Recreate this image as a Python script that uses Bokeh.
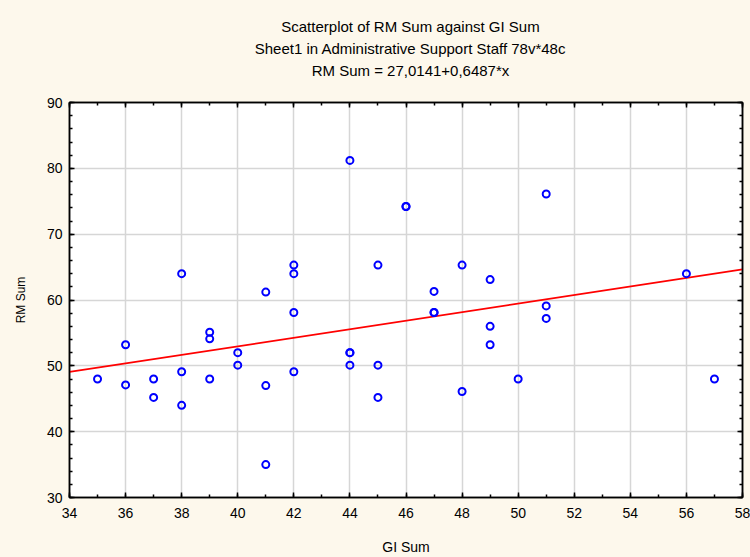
from bokeh.plotting import figure
from bokeh.layouts import column
from bokeh.models import (LinearAxis, SingleIntervalTicker, Range1d,
                          ColumnDataSource, Grid, CustomJSTickFormatter)
from bokeh.core.properties import value
from bokeh.embed import file_html
from bokeh.resources import INLINE

# ---- data ----
gi_sum = [35, 36, 36, 37, 37, 38, 38, 38, 39, 39, 39, 40, 40, 41, 41, 41,
          42, 42, 42, 42, 44, 44, 44, 44, 45, 45, 45, 46, 46, 47, 47, 47,
          48, 48, 49, 49, 49, 50, 51, 51, 51, 56, 57]
rm_sum = [48, 53.2, 47.1, 48, 45.2, 64, 49.1, 44, 55.1, 54.1, 48, 52, 50.1,
          61.2, 47, 35, 65.3, 64, 58.1, 49.1, 81.2, 52, 52, 50.1, 65.3, 50.1,
          45.2, 74.2, 74.2, 61.3, 58.1, 58.1, 65.3, 46.1, 63.1, 56, 53.2, 48,
          76.1, 59.1, 57.2, 64, 48]
intercept = 27.0141
slope = 0.6487
fit_x = [34, 58]
fit_y = [intercept + slope * v for v in fit_x]

title_lines = ["Scatterplot of RM Sum against GI Sum",
               "Sheet1 in Administrative Support Staff 78v*48c",
               "RM Sum = 27,0141+0,6487*x"]
x_label = "GI Sum"
y_label = "RM Sum"

FONT = "Liberation Sans"
BG = "#fdf8ec"

W, H = 750, 557
TH = 94                      # height of the title strip
ML, MR, MT, MB = 69, 8, 8, 59

# ---------------- title strip ----------------
t = figure(width=W, height=TH, output_backend="svg", toolbar_location=None,
           x_range=Range1d(0, W), y_range=Range1d(TH, 0),
           x_axis_type=None, y_axis_type=None, min_border=0)
t.xgrid.visible = False
t.ygrid.visible = False
t.background_fill_color = BG
t.border_fill_color = BG
t.outline_line_color = None
title_cx = [380, 380, 380]
title_cy = [26, 48, 70]
t.text(x=title_cx, y=title_cy, text=title_lines, text_font=value(FONT),
       text_font_size="15px", text_align="center", text_baseline="middle",
       text_color="black")

# ---------------- main chart ----------------
p = figure(width=W, height=H - TH, output_backend="svg", toolbar_location=None,
           x_range=Range1d(34, 58), y_range=Range1d(30, 90),
           x_axis_type=None, y_axis_type=None,
           min_border_left=ML, min_border_right=MR, min_border_top=MT,
           min_border_bottom=MB)
p.background_fill_color = "white"
p.border_fill_color = BG
p.outline_line_color = "black"
p.outline_line_width = 1.5

xt = SingleIntervalTicker(interval=2, num_minor_ticks=2)
yt = SingleIntervalTicker(interval=10, num_minor_ticks=5)


def style_axis(ax, labels=True):
    ax.axis_line_color = "black"
    ax.axis_line_width = 1.5
    ax.major_tick_in = 5
    ax.major_tick_out = 0
    ax.minor_tick_in = 3
    ax.minor_tick_out = 0
    ax.major_tick_line_color = "black"
    ax.minor_tick_line_color = "black"
    ax.major_tick_line_width = 1.5
    ax.minor_tick_line_width = 1.5
    if labels:
        ax.major_label_text_font = FONT
        ax.major_label_text_font_size = "14px"
        ax.major_label_text_color = "black"
        ax.axis_label_text_font = FONT
        ax.axis_label_text_font_size = "13px"
        ax.axis_label_text_font_style = "normal"
        ax.axis_label_text_color = "black"
    else:
        ax.formatter = CustomJSTickFormatter(code="return ''")
        ax.major_label_text_color = None
        ax.major_label_standoff = 0


xb = LinearAxis(ticker=xt, axis_label=x_label)
style_axis(xb)
xb.major_label_standoff = 10
xb.axis_label_standoff = 18
xb.axis_label_text_font_size = "14px"
p.add_layout(xb, "below")

yl = LinearAxis(ticker=yt, axis_label=y_label)
style_axis(yl)
yl.major_label_standoff = 7
yl.axis_label_standoff = 16
yl.axis_label_text_font_size = "12px"
p.add_layout(yl, "left")

xa = LinearAxis(ticker=xt)
style_axis(xa, labels=False)
p.add_layout(xa, "above")
yr = LinearAxis(ticker=yt)
style_axis(yr, labels=False)
p.add_layout(yr, "right")

p.xgrid.visible = False
p.ygrid.visible = False
p.add_layout(Grid(dimension=0, ticker=xt, grid_line_color="#d6d6d6",
                  grid_line_width=1.5))
p.add_layout(Grid(dimension=1, ticker=yt, grid_line_color="#d6d6d6",
                  grid_line_width=1.5))

p.line(fit_x, fit_y, line_color="#ff0000", line_width=1.8)

src = ColumnDataSource(dict(x=gi_sum, y=rm_sum))
p.scatter("x", "y", source=src, marker="circle", size=7, fill_color=None,
          line_color="#0000ff", line_width=2)

layout = column(t, p, spacing=0)
layout.styles = {"background-color": BG}
open("out.html", "w").write(file_html(layout, INLINE))
